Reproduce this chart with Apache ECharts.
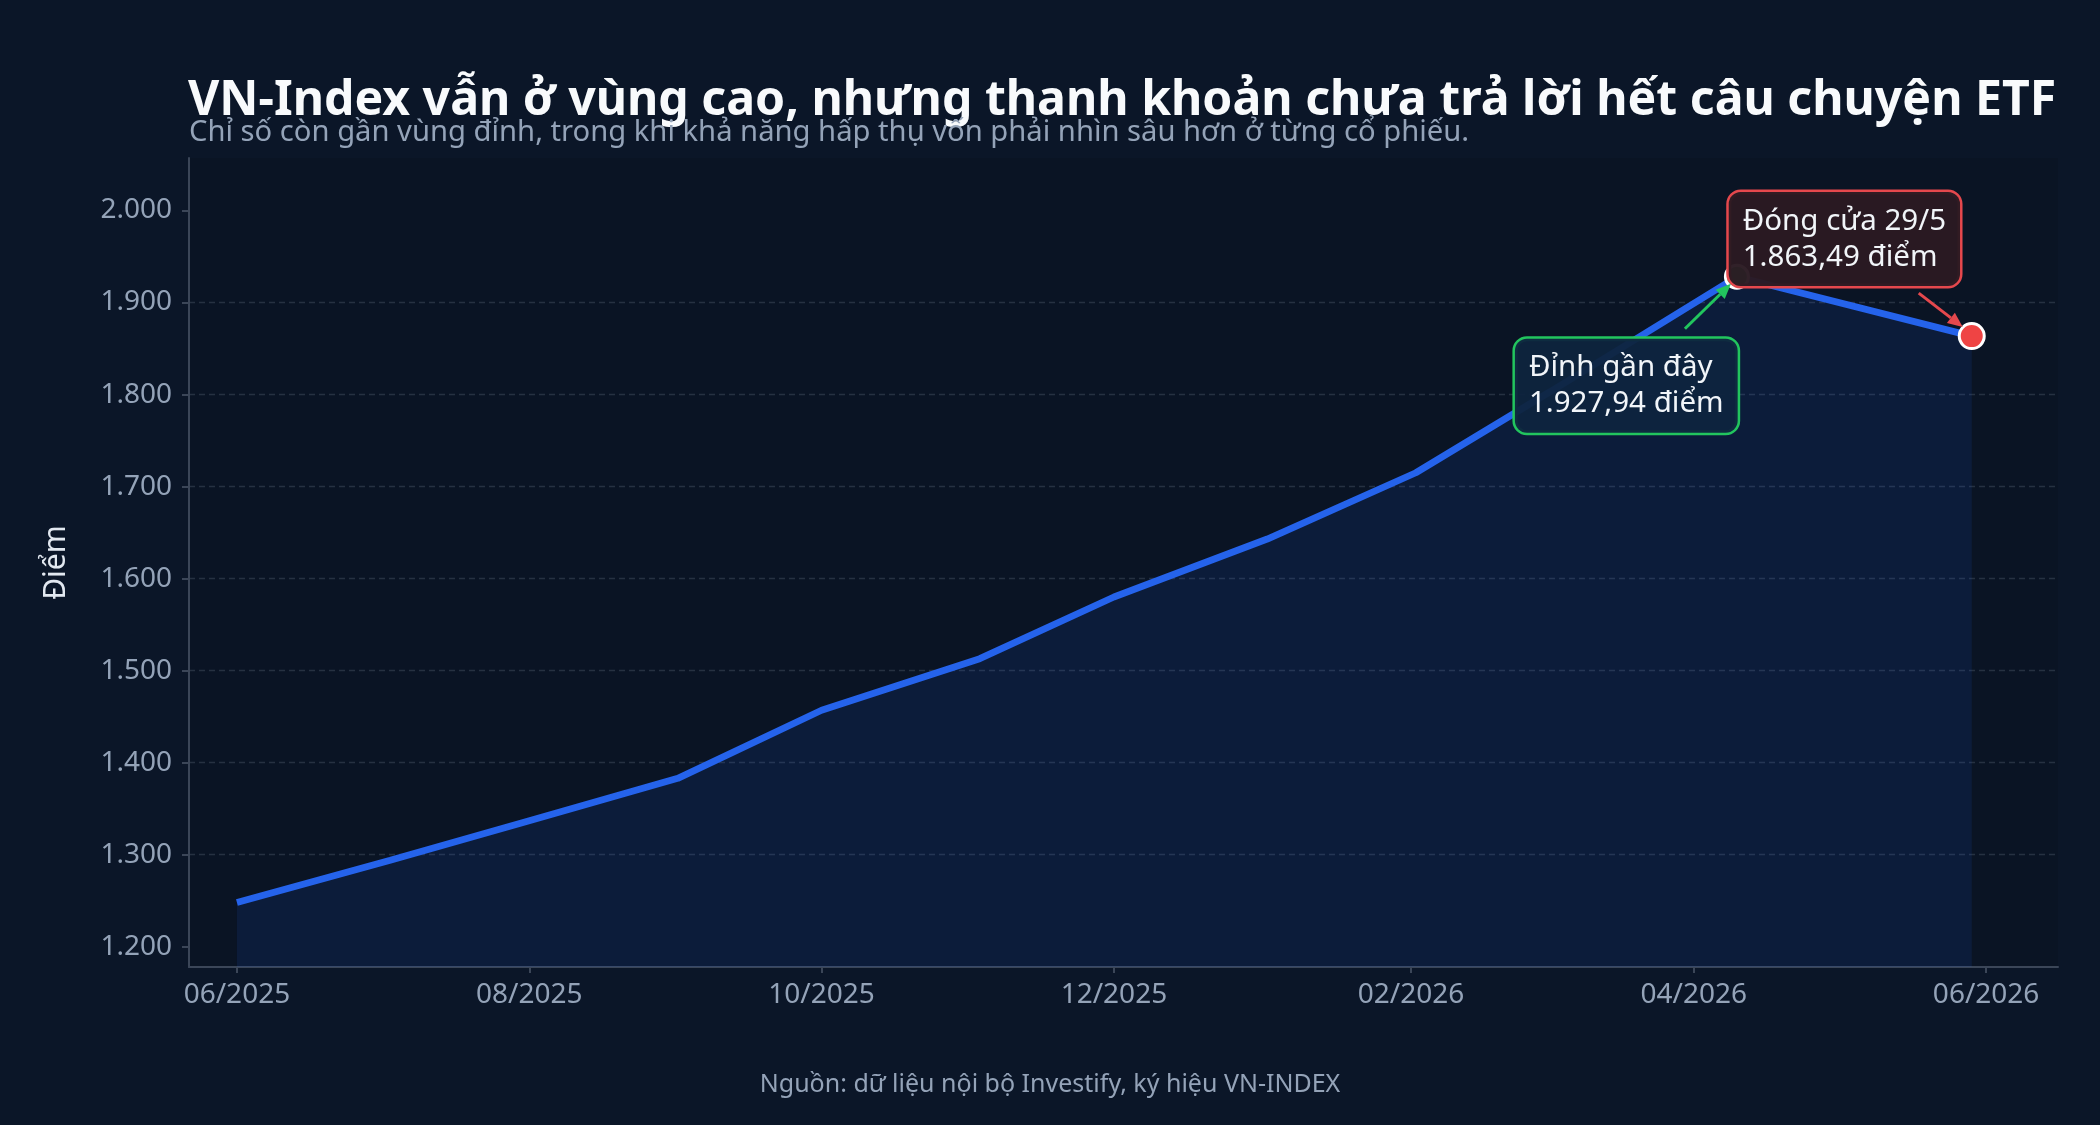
<!DOCTYPE html>
<html>
<head>
<meta http-equiv="Content-Type" content="text/html; charset=UTF-8">
<title>vnindex_etf</title>
<script src="https://cdn.jsdelivr.net/npm/echarts@6.0.0/dist/echarts.min.js"></script>
<style>
  html, body { margin: 0; padding: 0; background: #0b1628; }
  #main { width: 2100px; height: 1125px; }
</style>
</head>
<body>
<div id="main"></div>
<script type="text/javascript">
// du lieu VN-Index (doc tu hinh)
var dates = ['2025-06-01', '2025-07-03', '2025-08-01', '2025-09-01', '2025-10-01', '2025-11-03',
             '2025-12-01', '2026-01-02', '2026-02-02', '2026-03-02', '2026-04-10', '2026-05-29'];
var values = [1248, 1294, 1337, 1383, 1457, 1513, 1580, 1643, 1715, 1803, 1927.94, 1863.49];
var xTicks = ['2025-06-01', '2025-08-01', '2025-10-01', '2025-12-01', '2026-02-01', '2026-04-01', '2026-06-01'];
var yTicks = [1200, 1300, 1400, 1500, 1600, 1700, 1800, 1900, 2000];
var xRange = ['2025-05-22', '2026-06-16'];
var yRange = [1178, 2057];
var peakIdx = 10;
var lastIdx = 11;

var titleText = 'VN-Index vẫn ở vùng cao, nhưng thanh khoản chưa trả lời hết câu chuyện ETF';
var subText = 'Chỉ số còn gần vùng đỉnh, trong khi khả năng hấp thụ vốn phải nhìn sâu hơn ở từng cổ phiếu.';
var sourceText = 'Nguồn: dữ liệu nội bộ Investify, ký hiệu VN-INDEX';

var FONT = '"Noto Sans", "DejaVu Sans", sans-serif';

function ts(s) {
  var p = s.split('-');
  return Date.UTC(+p[0], +p[1] - 1, +p[2]);
}
function pad2(n) { return (n < 10 ? '0' : '') + n; }
// 1927.94 -> "1.927,94"
function fmtVN(v, dec) {
  var s = v.toFixed(dec).split('.');
  var intPart = s[0].replace(/\B(?=(\d{3})+(?!\d))/g, '.');
  return s.length > 1 ? intPart + ',' + s[1] : intPart;
}

var lineData = dates.map(function (d, i) { return [ts(d), values[i]]; });
var lastDate = new Date(ts(dates[lastIdx]));

var myChart = echarts.init(document.getElementById('main'));

var option = {
  backgroundColor: '#0b1628',
  animation: false,
  title: [{
    text: titleText,
    left: 183, top: 72,
    textStyle: { color: '#f8fafc', fontSize: 48.2, fontWeight: 'bold', fontFamily: FONT }
  }, {
    text: subText,
    left: 184, top: 113,
    textStyle: { color: '#94a3b8', fontSize: 29.2, fontWeight: 'normal', fontFamily: FONT }
  }, {
    text: sourceText,
    left: 'center', top: 1067,
    textStyle: { color: '#94a3b8', fontSize: 25, fontWeight: 'normal', fontFamily: FONT }
  }],
  grid: {
    left: 189, right: 42, top: 158, bottom: 158,
    show: true, backgroundColor: '#0a1424', borderWidth: 0
  },
  xAxis: {
    type: 'value',
    min: ts(xRange[0]), max: ts(xRange[1]),
    axisLine: { show: true, lineStyle: { color: '#3b4658', width: 2 } },
    axisTick: { show: true, length: 6, lineStyle: { color: '#3b4658', width: 2 },
                customValues: xTicks.map(ts) },
    axisLabel: {
      customValues: xTicks.map(ts),
      color: '#94a3b8', fontSize: 28, fontFamily: FONT, margin: 14,
      formatter: function (v) {
        var d = new Date(v);
        return pad2(d.getUTCMonth() + 1) + '/' + d.getUTCFullYear();
      }
    },
    splitLine: { show: false }
  },
  yAxis: {
    type: 'value',
    min: yRange[0], max: yRange[1],
    name: 'Điểm', nameLocation: 'middle', nameGap: 118, nameRotate: 90,
    nameTextStyle: { color: '#e2e8f0', fontSize: 30, fontFamily: FONT },
    axisLine: { show: true, lineStyle: { color: '#3b4658', width: 2 } },
    axisTick: { show: true, length: 7, lineStyle: { color: '#3b4658', width: 2 },
                customValues: yTicks },
    axisLabel: {
      customValues: yTicks,
      color: '#94a3b8', fontSize: 28, fontFamily: FONT, margin: 17,
      formatter: function (v) { return fmtVN(v, 0); }
    },
    splitLine: {
      show: true, showMinLine: false, showMaxLine: false,
      lineStyle: { color: 'rgba(148,163,184,0.2)', width: 1.4, type: [6, 4] }
    }
  },
  series: [{
    name: 'VN-Index',
    type: 'line',
    data: lineData,
    symbol: 'none',
    lineStyle: { color: '#2563eb', width: 6.8 },
    areaStyle: { color: 'rgba(37,99,235,0.16)', origin: 'start' },
    z: 2
  }, {
    type: 'scatter',
    data: [{
      value: lineData[peakIdx], symbolSize: 23,
      itemStyle: { color: '#22c55e', borderColor: '#ffffff', borderWidth: 3, opacity: 1 }
    }, {
      value: lineData[lastIdx], symbolSize: 25,
      itemStyle: { color: '#ef4444', borderColor: '#ffffff', borderWidth: 3, opacity: 1 }
    }],
    z: 5
  }]
};
myChart.setOption(option);

// chu thich + mui ten, dat theo toa do diem
function arrow(x1, y1, x2, y2, color) {
  var ang = Math.atan2(y2 - y1, x2 - x1);
  var hl = 15, hw = 6.5;
  var bx = x2 - hl * Math.cos(ang), by = y2 - hl * Math.sin(ang);
  var nx = -Math.sin(ang) * hw, ny = Math.cos(ang) * hw;
  return [{
    type: 'line', z: 90,
    shape: { x1: x1, y1: y1, x2: bx, y2: by },
    style: { stroke: color, lineWidth: 3 }
  }, {
    type: 'polygon', z: 90,
    shape: { points: [[x2, y2], [bx + nx, by + ny], [bx - nx, by - ny]] },
    style: { fill: color }
  }];
}

var pk = myChart.convertToPixel({ xAxisIndex: 0, yAxisIndex: 0 }, lineData[peakIdx]);
var ls = myChart.convertToPixel({ xAxisIndex: 0, yAxisIndex: 0 }, lineData[lastIdx]);

var graphics = [];
graphics = graphics.concat(arrow(pk[0] - 52, pk[1] + 52, pk[0] - 6, pk[1] + 7, '#22c55e'));
graphics = graphics.concat(arrow(ls[0] - 53, ls[1] - 43, ls[0] - 9, ls[1] - 9, '#e5484d'));
graphics.push({
  type: 'text', z: 100,
  x: pk[0] - 222, y: pk[1] + 62,
  style: {
    text: 'Đỉnh gần đây\n' + fmtVN(values[peakIdx], 2) + ' điểm',
    fill: '#f1f5f9', font: '29.5px ' + FONT, lineHeight: 36,
    backgroundColor: 'rgba(14,36,62,0.95)', borderColor: '#22c55e', borderWidth: 2.5,
    borderRadius: 12, padding: [11, 14]
  }
});
graphics.push({
  type: 'text', z: 100,
  x: ls[0] - 243, y: ls[1] - 144,
  style: {
    text: 'Đóng cửa ' + lastDate.getUTCDate() + '/' + (lastDate.getUTCMonth() + 1) + '\n' +
          fmtVN(values[lastIdx], 2) + ' điểm',
    fill: '#f1f5f9', font: '29.5px ' + FONT, lineHeight: 36,
    backgroundColor: 'rgba(42,26,34,0.97)', borderColor: '#e5484d', borderWidth: 2.5,
    borderRadius: 12, padding: [11, 14]
  }
});
myChart.setOption({ graphic: graphics });
</script>
</body>
</html>
